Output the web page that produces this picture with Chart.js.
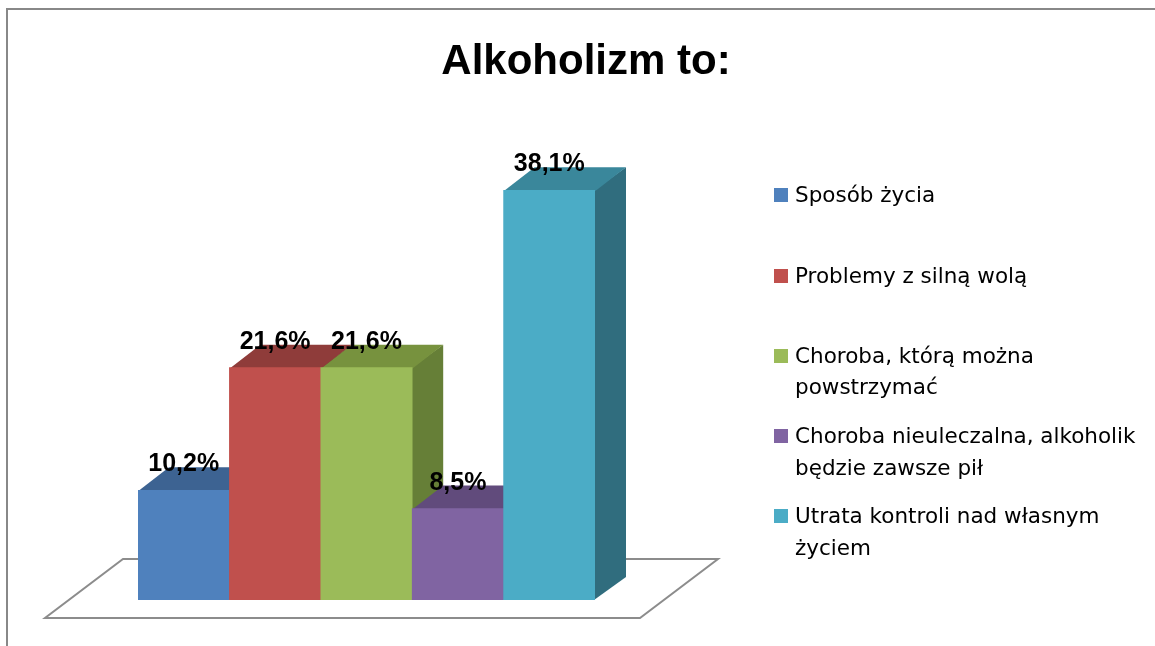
<!DOCTYPE html>
<html lang="pl">
<head>
<meta charset="utf-8">
<title>Alkoholizm to:</title>
<script src="https://cdn.jsdelivr.net/npm/chart.js@4.4.1/dist/chart.umd.min.js"></script>
<style>
  html, body { margin: 0; padding: 0; background: #fff; overflow: hidden; }
  #quadro { position: relative; width: 1155px; height: 646px; overflow: hidden; }
  #moldura { position: absolute; left: 6px; top: 8px; width: 1250px; height: 750px; border: 2px solid #888; box-sizing: border-box; }
  #area { position: absolute; left: 0; top: 0; width: 1155px; height: 646px; }
  #titulo { position: absolute; left: 386px; top: 35px; width: 400px; text-align: center;
            font: bold 42px/50px "Liberation Sans", Arial, sans-serif; color: #000; }
  #legenda { position: absolute; left: 774px; top: 0; }
  .item { position: absolute; left: 0; width: 380px; font: 21.5px/31.5px "DejaVu Sans", sans-serif; color: #000; }
  .item .cor { position: absolute; left: 0; top: 9px; width: 14px; height: 14px; }
  .item .txt { position: absolute; left: 21px; width: 358px; }
</style>
</head>
<body>
<div id="quadro">
  <div id="moldura"></div>
  <div id="area"><canvas id="grafico"></canvas></div>
  <div id="titulo">Alkoholizm to:</div>
  <div id="legenda"></div>
</div>
<script>
  // dados
  const categorias = [
    "Sposób życia",
    "Problemy z silną wolą",
    "Choroba, którą można powstrzymać",
    "Choroba nieuleczalna, alkoholik będzie zawsze pił",
    "Utrata kontroli nad własnym życiem"
  ];
  const valores = [10.2, 21.6, 21.6, 8.5, 38.1];

  const coresFrente = ['#4F81BD', '#C0504D', '#9BBB59', '#8064A2', '#4BACC6'];
  const coresTopo = ['#3D6392', '#8F3C3A', '#77923E', '#614B7C', '#3A879B'];
  const coresLado = ['#33547B', '#7A3230', '#667F37', '#52406A', '#306D7E'];

  const DX = 31; // profundidade da barra
  const DY = 23;

  // legenda (html)
  const legenda = document.getElementById('legenda');
  for (let i = 0; i < categorias.length; i++) {
    const item = document.createElement('div');
    item.className = 'item';
    item.style.top = (179.3 + i * 80.25) + 'px';
    item.innerHTML = '<div class="cor" style="background:' + coresFrente[i] + '"></div>' +
                     '<div class="txt">' + categorias[i] + '</div>';
    legenda.appendChild(item);
  }

  const efeito3d = {
    id: 'efeito3d',
    beforeDatasetsDraw(chart) {
      const ctx = chart.ctx;
      const area = chart.chartArea;
      const base = chart.scales.y.getPixelForValue(0);
      const barras = chart.getDatasetMeta(0).data;

      // chao
      ctx.save();
      ctx.beginPath();
      ctx.moveTo(area.left - 93, base + 18);
      ctx.lineTo(area.right + 45, base + 18);
      ctx.lineTo(area.right + 123, base - 41);
      ctx.lineTo(area.left - 15, base - 41);
      ctx.closePath();
      ctx.fillStyle = '#fff';
      ctx.fill();
      ctx.lineWidth = 2;
      ctx.strokeStyle = '#8c8c8c';
      ctx.stroke();

      // lateral e topo de cada barra
      barras.forEach((barra, i) => {
        const p = barra.getProps(['x', 'y', 'base', 'width'], true);
        const esq = p.x - p.width / 2;
        const dir = p.x + p.width / 2;

        ctx.beginPath();
        ctx.moveTo(dir - 1, p.y);
        ctx.lineTo(dir + DX, p.y - DY);
        ctx.lineTo(dir + DX, p.base - DY);
        ctx.lineTo(dir - 1, p.base);
        ctx.closePath();
        ctx.fillStyle = coresLado[i];
        ctx.fill();

        ctx.beginPath();
        ctx.moveTo(esq, p.y + 1);
        ctx.lineTo(dir, p.y + 1);
        ctx.lineTo(dir + DX, p.y - DY);
        ctx.lineTo(esq + DX, p.y - DY);
        ctx.closePath();
        ctx.fillStyle = coresTopo[i];
        ctx.fill();
      });
      ctx.restore();
    },
    afterDatasetsDraw(chart) {
      const ctx = chart.ctx;
      const barras = chart.getDatasetMeta(0).data;
      ctx.save();
      ctx.font = 'bold 25px "Liberation Sans", Arial, sans-serif';
      ctx.fillStyle = '#000';
      ctx.textAlign = 'center';
      ctx.textBaseline = 'alphabetic';
      barras.forEach((barra, i) => {
        const p = barra.getProps(['x', 'y'], true);
        ctx.fillText(valores[i].toFixed(1).replace('.', ',') + '%', p.x, p.y - 19);
      });
      ctx.restore();
    }
  };

  const dados = {
    labels: categorias,
    datasets: [{
      label: 'Alkoholizm to:',
      data: valores,
      backgroundColor: coresFrente,
      borderWidth: 0,
      categoryPercentage: 1,
      barPercentage: 1
    }]
  };

  const config = {
    type: 'bar',
    data: dados,
    options: {
      responsive: true,
      maintainAspectRatio: false,
      animation: false,
      layout: {
        padding: { left: 138, right: 560, top: 116, bottom: 46 }
      },
      scales: {
        x: { display: false },
        y: { display: false, min: 0, max: 45 }
      },
      plugins: {
        legend: { display: false },
        title: { display: false },
        tooltip: { enabled: false }
      }
    },
    plugins: [efeito3d]
  };

  const grafico = new Chart(document.getElementById('grafico'), config);
</script>
</body>
</html>
